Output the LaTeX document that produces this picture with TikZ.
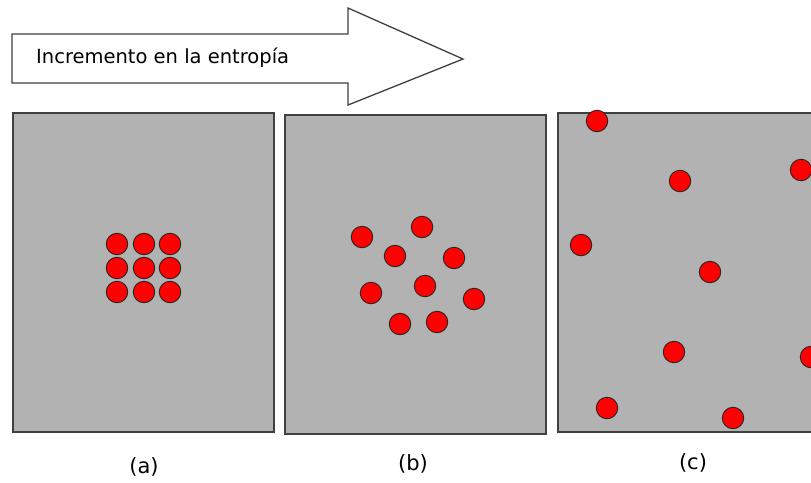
\documentclass[tikz,border=0pt]{standalone}
\usepackage{fontspec}
\setmainfont{DejaVu Sans}
\begin{document}
\begin{tikzpicture}[x=1pt,y=-1pt,
  panel/.style={draw=black!75,fill=black!30,line width=1.1pt},
  particle/.style={circle,draw=black!85,fill=red,line width=0.9pt,minimum size=21.5pt,inner sep=0pt},
  caption/.style={font=\fontsize{21}{25}\selectfont},
  bigarrow/.style={draw=black!75,fill=white,line width=1.3pt,line join=miter}]
\useasboundingbox (0,0) rectangle (811,482);
\clip (0,0) rectangle (811,482);

% entropy arrow
\draw[bigarrow] (12,34) -- (348,34) -- (348,8) -- (463,59) -- (348,105) -- (348,83) -- (12,83) -- cycle;
\node[anchor=base west,inner sep=0pt,font=\fontsize{19.5}{23}\selectfont] (arrowtext) at (36,63.5) {Incremento en la entropía};

% three containers
\draw[panel] (13,113) rectangle (274,432);
\draw[panel] (285,115) rectangle (546,434);
\draw[panel] (558,113) rectangle (830,432);

% (a) ordered grid
\foreach \px/\py [count=\i] in {117/244,144/244,170/244,117/268,144/268,170/268,117/292,144/292,170/292}
  \node[particle] (a\i) at (\px,\py) {};

% (b) loosely spread
\foreach \px/\py [count=\i] in {362/237,422/227,395/256,454/258,425/286,371/293,474/299,400/324,437/322}
  \node[particle] (b\i) at (\px,\py) {};

% (c) fully spread
\foreach \px/\py [count=\i] in {597/121,680/181,801/170,581/245,710/272,674/352,811/357,607/408,733/418}
  \node[particle] (c\i) at (\px,\py) {};

% captions
\node[caption] (capa) at (144,467) {(a)};
\node[caption] (capb) at (413,464) {(b)};
\node[caption] (capc) at (693,463) {(c)};
\end{tikzpicture}
\end{document}
